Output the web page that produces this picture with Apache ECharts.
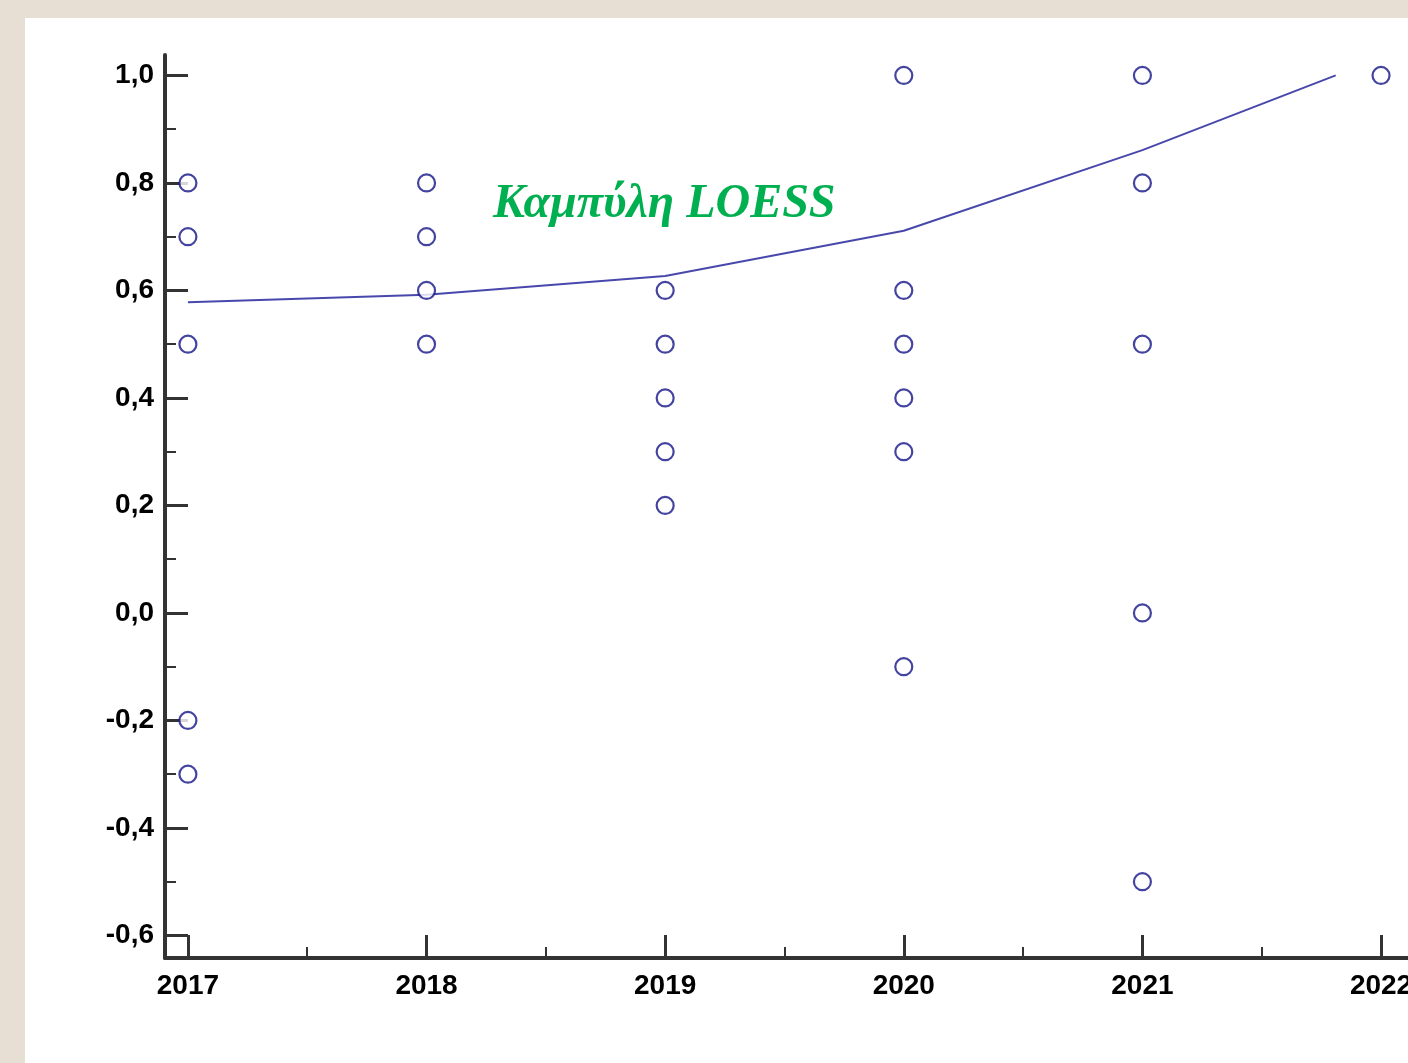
<!DOCTYPE html>
<html>
<head>
<meta charset="utf-8">
<script src="https://cdn.jsdelivr.net/npm/echarts@6/dist/echarts.min.js"></script>
<style>
  html, body { margin: 0; padding: 0; background: #e8dfd4; overflow: hidden; }
  #chart { position: absolute; left: 25px; top: 18px; width: 1383px; height: 1045px; background: #ffffff; }
</style>
</head>
<body>
<div id="chart"></div>
<script>
// observed values (year, score)
const obs2017 = [0.8, 0.7, 0.5, -0.2, -0.3]
const obs2018 = [0.8, 0.7, 0.6, 0.5]
const obs2019 = [0.6, 0.5, 0.4, 0.3, 0.2]
const obs2020 = [1.0, 0.6, 0.5, 0.4, 0.3, -0.1]
const obs2021 = [1.0, 0.8, 0.5, 0.0, -0.5]
const obs2022 = [1.0]

// LOESS curve
const loessX = [2017, 2018, 2019, 2020, 2021, 2021.81]
const loessY = [0.578, 0.592, 0.627, 0.711, 0.861, 1.0]

const yearTicks = [2017, 2018, 2019, 2020, 2021, 2022]
const yearMinor = [2017.5, 2018.5, 2019.5, 2020.5, 2021.5]
const yTicks = [-0.6, -0.4, -0.2, 0, 0.2, 0.4, 0.6, 0.8, 1.0]
const yMinor = [-0.5, -0.3, -0.1, 0.1, 0.3, 0.5, 0.7, 0.9]

const scatterData = []
const groups = [[2017, obs2017], [2018, obs2018], [2019, obs2019], [2020, obs2020], [2021, obs2021], [2022, obs2022]]
groups.forEach(([yr, vals]) => {
  vals.forEach(v => scatterData.push([yr, v]))
})

const axisColor = '#333333'
const labelFont = {
  fontFamily: 'Liberation Sans, Arial, sans-serif',
  fontWeight: 'bold',
  fontSize: 28,
  color: '#000000'
}

const dom = echarts.init(document.getElementById('chart'))
dom.setOption({
  animation: false,
  grid: { left: 140, top: 37, right: 0, bottom: 105, outerBoundsMode: 'none' },
  xAxis: [
    {
      type: 'value',
      min: 2016.904,
      max: 2022.113,
      splitLine: { show: false },
      axisLine: { onZero: false, lineStyle: { color: axisColor, width: 4 } },
      axisTick: { inside: true, length: 23, customValues: yearTicks, lineStyle: { color: axisColor, width: 3 } },
      axisLabel: { customValues: yearTicks, margin: 14, formatter: v => String(Math.round(v)), ...labelFont }
    },
    {
      type: 'value',
      position: 'bottom',
      min: 2016.904,
      max: 2022.113,
      splitLine: { show: false },
      axisLine: { show: false, onZero: false },
      axisTick: { inside: true, length: 11, customValues: yearMinor, lineStyle: { color: axisColor, width: 2 } },
      axisLabel: { show: false }
    }
  ],
  yAxis: [
    {
      type: 'value',
      min: -0.642,
      max: 1.038,
      splitLine: { show: false },
      axisLine: { onZero: false, lineStyle: { color: axisColor, width: 4 } },
      axisTick: { inside: true, length: 23, customValues: yTicks, lineStyle: { color: axisColor, width: 3 } },
      axisLabel: { customValues: yTicks, margin: 11, formatter: v => v.toFixed(1).replace('.', ','), ...labelFont }
    },
    {
      type: 'value',
      position: 'left',
      min: -0.642,
      max: 1.038,
      splitLine: { show: false },
      axisLine: { show: false, onZero: false },
      axisTick: { inside: true, length: 11, customValues: yMinor, lineStyle: { color: axisColor, width: 2 } },
      axisLabel: { show: false }
    }
  ],
  series: [
    {
      type: 'line',
      data: loessX.map((x, i) => [x, loessY[i]]),
      showSymbol: false,
      lineStyle: { color: '#4848ac', width: 2 },
      z: 2
    },
    {
      type: 'scatter',
      data: scatterData,
      symbol: 'circle',
      symbolSize: 17,
      itemStyle: { color: '#ffffff', borderColor: '#141488', borderWidth: 2.2 },
      z: 3
    }
  ],
  graphic: [
    {
      type: 'text',
      left: 468,
      top: 163,
      style: {
        text: 'Καμπύλη LOESS',
        fill: '#00b050',
        font: 'italic bold 48px "Liberation Serif", "Times New Roman", serif'
      }
    }
  ]
})
</script>
</body>
</html>
